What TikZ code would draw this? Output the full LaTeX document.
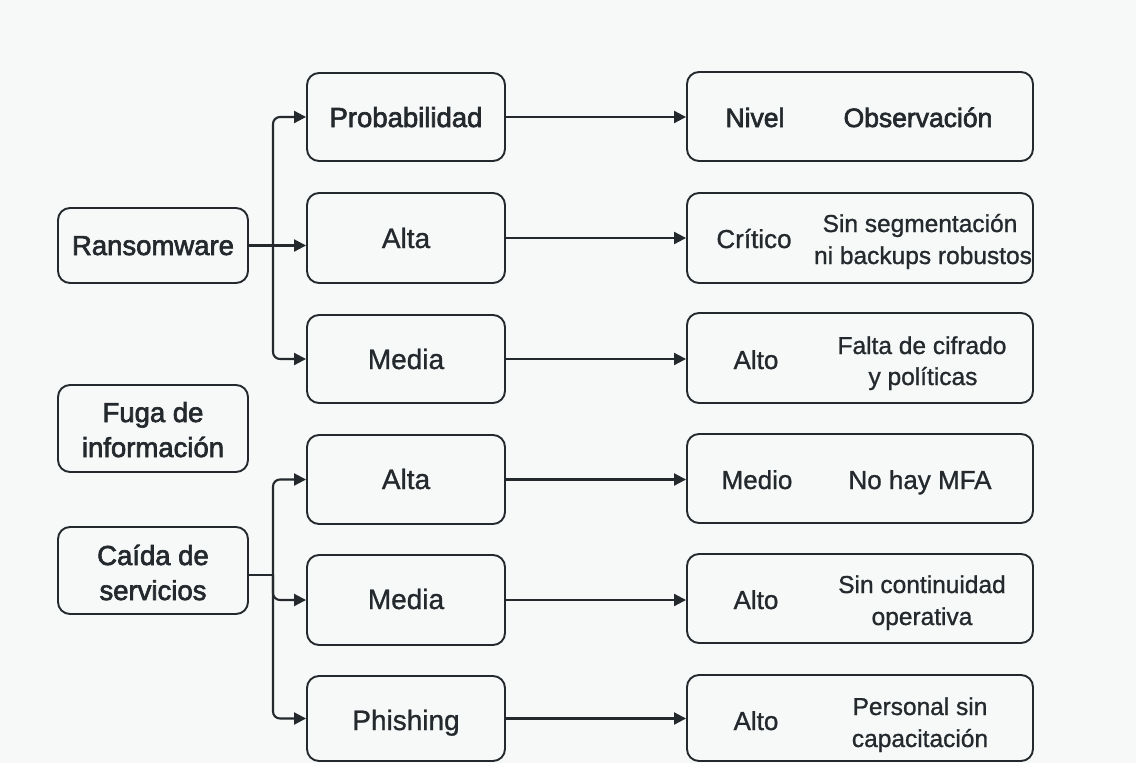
\documentclass[tikz,border=0pt]{standalone}
\usepackage{fontspec}
\setmainfont[FakeBold=1.0]{Liberation Sans}
\newfontfamily\semib[FakeBold=2.4]{Liberation Sans}
\usetikzlibrary{arrows.meta,calc}
\definecolor{bg}{HTML}{F7F8F8}
\definecolor{ink}{HTML}{23292D}
\tikzset{
  box/.style={draw=ink, line width=1.9pt, rounded corners=12pt, inner sep=0pt},
  lbox/.style={box, minimum width=190pt},
  mbox/.style={box, minimum width=198pt},
  rbox/.style={box, minimum width=346pt},
  arr/.style={draw=ink, line width=2.1pt, -{Triangle[length=12pt,width=12pt]}},
  conn/.style={draw=ink, line width=2.1pt},
  txt/.style={text=ink, inner sep=0pt, anchor=base},
  big/.style={txt, font=\fontsize{28}{35}\selectfont},
  bigb/.style={txt, font=\semib\fontsize{27.5}{35}\selectfont},
  lvl/.style={txt, font=\fontsize{26}{31}\selectfont},
  lvlb/.style={txt, font=\semib\fontsize{26.5}{31}\selectfont},
  obs/.style={txt, font=\fontsize{24.5}{31}\selectfont}
}
\begin{document}
\begin{tikzpicture}[x=1pt,y=-1pt]
\fill[bg] (0,0) rectangle (1136,763);
\useasboundingbox (0,0) rectangle (1136,763);

% left column
\node[lbox, minimum height=75pt] (ran) at (153,245.5) {};
\node[bigb] at (153,255) {Ransomware};
\node[lbox, minimum height=87pt] (fug) at (153,428.5) {};
\node[bigb] at (153,422) {Fuga de};
\node[bigb] at (153,457) {información};
\node[lbox, minimum height=87pt] (cai) at (153,570.5) {};
\node[bigb] at (153,565) {Caída de};
\node[bigb] at (153,600) {servicios};

% middle column
\node[mbox, minimum height=88pt] (m1) at (406,117) {};
\node[bigb] at (406,127) {Probabilidad};
\node[mbox, minimum height=90pt] (m2) at (406,238) {};
\node[big] at (406,248) {Alta};
\node[mbox, minimum height=88pt] (m3) at (406,359) {};
\node[big] at (406,369) {Media};
\node[mbox, minimum height=89pt] (m4) at (406,479.5) {};
\node[big] at (406,489) {Alta};
\node[mbox, minimum height=90pt] (m5) at (406,600) {};
\node[big] at (406,609) {Media};
\node[mbox, minimum height=85pt] (m6) at (406,718.5) {};
\node[big] at (406,730) {Phishing};

% right column
\node[rbox, minimum height=89pt] (r1) at (860,116.5) {};
\node[lvlb] at (755,127) {Nivel};
\node[lvlb] at (918,127) {Observación};
\node[rbox, minimum height=90pt] (r2) at (860,238) {};
\node[lvl] at (754,248) {Crítico};
\node[obs] at (920,232) {Sin segmentación};
\node[obs] at (923,264) {ni backups robustos};
\node[rbox, minimum height=90pt] (r3) at (860,358) {};
\node[lvl] at (756,369) {Alto};
\node[obs] at (922,354) {Falta de cifrado};
\node[obs] at (923,385) {y políticas};
\node[rbox, minimum height=89pt] (r4) at (860,478.5) {};
\node[lvl] at (757,489) {Medio};
\node[lvl] at (920,489) {No hay MFA};
\node[rbox, minimum height=89pt] (r5) at (860,598.5) {};
\node[lvl] at (756,609) {Alto};
\node[obs] at (922,593) {Sin continuidad};
\node[obs] at (922,625) {operativa};
\node[rbox, minimum height=86pt] (r6) at (860,718) {};
\node[lvl] at (756,730) {Alto};
\node[obs] at (920,715) {Personal sin};
\node[obs] at (920,747) {capacitación};

% branches from Ransomware
\coordinate (j1) at (273,245.5);
\draw[arr] (ran.east) -- (ran.east -| m2.west);
\draw[arr, rounded corners=7pt] (j1) |- (m1.west);
\draw[arr, rounded corners=7pt] (j1) |- (m3.west);

% branches from Caida
\coordinate (j2) at (273,575);
\draw[conn] (cai.east |- j2) -- (j2);
\draw[arr, rounded corners=7pt] (j2) |- (m4.west);
\draw[arr, rounded corners=7pt] (j2) |- (m5.west);
\draw[arr, rounded corners=7pt] (j2) |- (m6.west);

% middle to right
\draw[arr] (m1.east) -- (m1.east -| r1.west);
\draw[arr] (m2.east) -- (m2.east -| r2.west);
\draw[arr] (m3.east) -- (m3.east -| r3.west);
\draw[arr] (m4.east) -- (m4.east -| r4.west);
\draw[arr] (m5.east) -- (m5.east -| r5.west);
\draw[arr] (m6.east) -- (m6.east -| r6.west);
\end{tikzpicture}
\end{document}
